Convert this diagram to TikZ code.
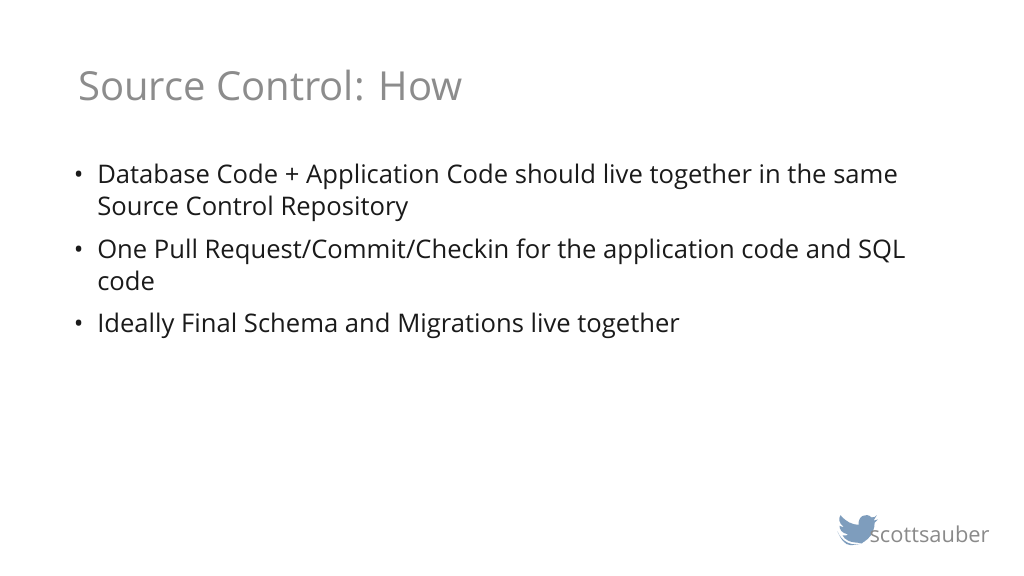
\documentclass[tikz,border=0pt]{standalone}
\usepackage{fontspec}
\setmainfont{Open Sans}
\definecolor{titlegray}{HTML}{8C8C8C}
\definecolor{bodyblack}{HTML}{1A1A1A}
\definecolor{birdblue}{HTML}{7E9DBD}
\definecolor{handlegray}{HTML}{8A8A8A}
\tikzset{
  slidetitle/.style={anchor=base west, inner sep=0pt, text=titlegray, font=\fontsize{37.5}{44}\selectfont},
  bulletline/.style={anchor=base west, inner sep=0pt, text=bodyblack, font=\fontsize{24}{29}\selectfont},
  bulletdot/.style={anchor=base west, inner sep=0pt, text=bodyblack, font=\fontsize{24}{29}\selectfont}
}
\begin{document}
\begin{tikzpicture}[x=1pt, y=-1pt]
  \useasboundingbox[fill=white] (0,0) rectangle (960,540);
  \node[slidetitle] (title) at (73,94) {Source Control: How};

  % bullets
  \node[bulletdot] (dot1) at (69,172) {•};
  \node[bulletline] (b1a) at (91,172) {Database Code + Application Code should live together in the same};
  \node[bulletline] (b1b) at (91,202) {Source Control Repository};
  \node[bulletdot] (dot2) at (69,242) {•};
  \node[bulletline] (b2a) at (91,242) {One Pull Request/Commit/Checkin for the application code and SQL};
  \node[bulletline] (b2b) at (91,272) {code};
  \node[bulletdot] (dot3) at (69,312) {•};
  \node[bulletline] (b3) at (91,312) {Ideally Final Schema and Migrations live together};

  % twitter handle
  \begin{scope}[shift={(-1,0)}]
  \fill[birdblue] (786,498) .. controls (790,508) and (800,513) .. (810,509)
    .. controls (797,509) and (793,506) .. (791,502)
    .. controls (795,502) .. (796,501)
    .. controls (790,500) and (788,496) .. (788,493)
    .. controls (791,494) .. (792,494)
    .. controls (787,490) and (787,486) .. (789,483)
    .. controls (794,489) and (800,492) .. (806,492)
    .. controls (805,484) and (813,480) .. (818,485)
    .. controls (821,485) .. (823,483)
    .. controls (822,486) .. (820,488)
    .. controls (822,488) .. (824,487)
    .. controls (822,489) .. (821,490)
    .. controls (821,502) and (811,512) .. (798,511)
    .. controls (793,511) and (789,505) .. (786,498) -- cycle;
  \end{scope}
  \node[anchor=base west, inner sep=0pt, text=handlegray, font=\fontsize{20.5}{24}\selectfont] (handle) at (815,509) {scottsauber};
\end{tikzpicture}
\end{document}
